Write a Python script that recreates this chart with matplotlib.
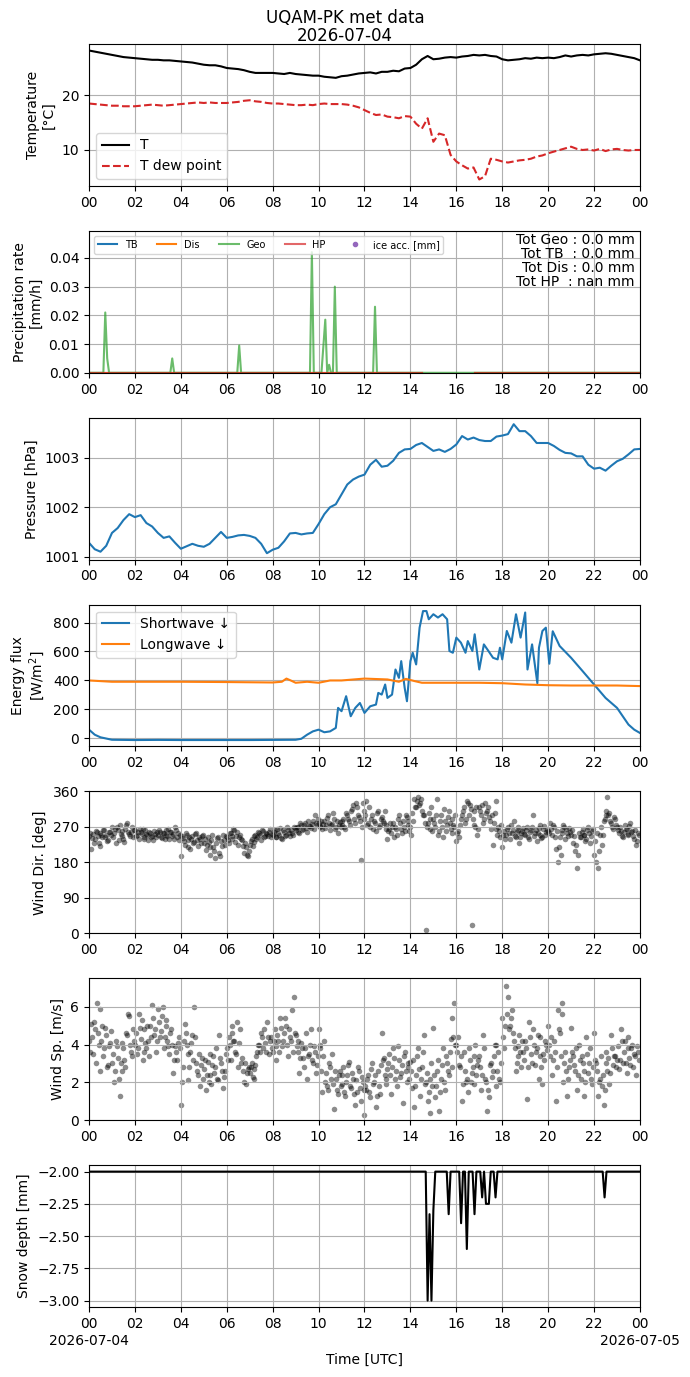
import numpy as np
import pandas as pd
import matplotlib
matplotlib.use('Agg')
from matplotlib import pyplot as plt
import matplotlib.dates as mdates
from matplotlib.ticker import MultipleLocator

day = pd.Timestamp('2026-07-04 00:00')

# temperature, 15 min steps
t_air = [28.2, 28.0, 27.8, 27.6, 27.4, 27.2, 27.0, 26.9,
         26.8, 26.7, 26.6, 26.5, 26.5, 26.4, 26.4, 26.3,
         26.2, 26.1, 26.0, 25.8, 25.6, 25.5, 25.5, 25.3,
         25.0, 24.9, 24.8, 24.6, 24.3, 24.1, 24.1, 24.1,
         24.1, 24.0, 23.9, 24.1, 23.9, 23.8, 23.7, 23.6,
         23.6, 23.4, 23.3, 23.2, 23.5, 23.6, 23.8, 24.0,
         24.1, 24.2, 24.0, 24.3, 24.3, 24.5, 24.4, 24.9,
         25.0, 25.6, 26.6, 27.2, 26.6, 26.7, 26.9, 27.0,
         26.9, 27.1, 27.2, 27.4, 27.3, 27.4, 27.2, 27.1,
         26.6, 26.4, 26.5, 26.6, 26.8, 26.7, 26.9, 26.8,
         26.9, 26.8, 27.0, 27.3, 27.1, 27.3, 27.4, 27.3,
         27.5, 27.6, 27.7, 27.6, 27.4, 27.2, 27.0, 26.8, 26.4]
t_dew = [18.5, 18.4, 18.3, 18.2, 18.1, 18.1, 18.0, 18.0,
         18.0, 18.1, 18.2, 18.3, 18.2, 18.1, 18.2, 18.3,
         18.4, 18.5, 18.6, 18.7, 18.6, 18.7, 18.6, 18.6,
         18.6, 18.7, 18.8, 19.0, 19.1, 18.9, 18.8, 18.6,
         18.5, 18.5, 18.4, 18.3, 18.2, 18.2, 18.3, 18.2,
         18.4, 18.5, 18.4, 18.4, 18.4, 18.3, 18.1, 17.8,
         17.3, 16.8, 16.4, 16.5, 16.1, 16.0, 15.8, 16.2,
         16.1, 14.8, 13.9, 15.8, 11.5, 13.0, 12.7, 9.1,
         7.9, 7.2, 6.6, 6.8, 4.6, 5.2, 8.4, 8.2,
         7.9, 7.7, 7.9, 8.1, 8.2, 8.4, 8.8, 9.0,
         9.4, 9.7, 10.0, 10.3, 10.6, 10.2, 10.0, 10.1,
         9.9, 10.2, 9.8, 10.1, 10.2, 10.0, 9.9, 10.0, 10.0]

# precipitation (sparse readings, hours)
geo_hours = [0, 0.625, 0.708, 0.792, 0.875, 3.542, 3.625, 3.708, 6.458, 6.542, 6.625,
             9.625, 9.708, 9.792, 10.125, 10.292, 10.375, 10.458, 10.542, 10.625,
             10.708, 10.792, 12.375, 12.458, 12.542, 24]
geo_rate = [0, 0, 0.021, 0.005, 0, 0, 0.005, 0, 0, 0.0095, 0,
            0, 0.042, 0, 0, 0.0185, 0, 0.0028, 0, 0,
            0.030, 0, 0, 0.023, 0, 0]
oth_hours = [0, 14.5, 14.51, 16.8, 24]
tb_rate = [0, 0, np.nan, 0, 0]
dis_rate = [0, 0, np.nan, 0, 0]
hp_rate = [0, 0, np.nan, 0, 0]
ice_acc = [np.nan]
totals = {'Geo': '0.0', 'TB ': '0.0', 'Dis': '0.0', 'HP ': 'nan'}

# pressure, 15 min steps
pres = [1001.28, 1001.15, 1001.10, 1001.22, 1001.48, 1001.58, 1001.74, 1001.86,
        1001.80, 1001.84, 1001.68, 1001.61, 1001.48, 1001.38, 1001.41, 1001.28,
        1001.16, 1001.21, 1001.26, 1001.22, 1001.20, 1001.26, 1001.38, 1001.50,
        1001.38, 1001.40, 1001.43, 1001.44, 1001.42, 1001.38, 1001.26, 1001.07,
        1001.14, 1001.18, 1001.31, 1001.47, 1001.48, 1001.45, 1001.47, 1001.48,
        1001.66, 1001.86, 1002.00, 1002.06, 1002.26, 1002.46, 1002.56, 1002.62,
        1002.66, 1002.86, 1002.96, 1002.82, 1002.84, 1002.94, 1003.10, 1003.17,
        1003.18, 1003.26, 1003.30, 1003.22, 1003.14, 1003.17, 1003.12, 1003.18,
        1003.27, 1003.44, 1003.37, 1003.41, 1003.36, 1003.34, 1003.34, 1003.43,
        1003.45, 1003.48, 1003.68, 1003.54, 1003.54, 1003.44, 1003.30, 1003.30,
        1003.30, 1003.24, 1003.16, 1003.10, 1003.09, 1003.03, 1003.03, 1002.86,
        1002.78, 1002.80, 1002.74, 1002.84, 1002.93, 1002.98, 1003.07, 1003.17, 1003.18]

# radiation
sw_hours = [0, 0.25, 0.5, 1, 2, 3, 4, 5, 6, 7, 8, 9, 9.25, 9.5, 9.75, 10, 10.25, 10.5, 10.75,
            10.85, 11.0, 11.2, 11.4, 11.6, 11.8, 12.0, 12.25, 12.5, 12.6, 12.75, 12.9, 13.0,
            13.2, 13.35, 13.5, 13.6, 13.75, 13.85, 14.0, 14.1, 14.25, 14.4, 14.55, 14.7, 14.8,
            15.0, 15.2, 15.4, 15.6, 15.7, 15.85, 16.0, 16.2, 16.4, 16.5, 16.7, 16.8, 17.0,
            17.2, 17.4, 17.6, 17.8, 17.9, 18.0, 18.2, 18.4, 18.6, 18.8, 19.0, 19.1, 19.3,
            19.53, 19.6, 19.75, 19.9, 20.05, 20.2, 20.5, 21.0, 21.5, 22.0, 22.5, 23.0, 23.5,
            23.75, 24]
sw_down = [58, 23, 5, -12, -14, -13, -14, -14, -14, -14, -13, -12, -5, 23, 46, 58, 40, 46, 70,
           209, 186, 290, 151, 209, 243, 174, 220, 232, 313, 301, 371, 278,
           301, 475, 417, 533, 348, 255, 533, 591, 510, 765, 880, 880, 823,
           858, 835, 858, 823, 603, 591, 696, 661, 591, 672, 603, 719, 475,
           649, 603, 556, 545, 626, 545, 742, 661, 858, 696, 870, 475, 649,
           380, 626, 742, 765, 515, 740, 638, 556, 464, 371, 278, 209, 93,
           58, 35]
lw_hours = [0, 1, 2, 4, 6, 8, 8.4, 8.6, 8.8, 9.0, 9.5, 10.0, 10.5, 11, 12, 13, 13.5, 13.8,
            14.2, 14.5, 15, 16, 17, 18, 19, 20, 21, 22, 23, 24]
lw_down = [399, 390, 390, 390, 388, 385, 390, 412, 398, 383, 390, 383, 399, 399, 412, 406,
           390, 410, 394, 383, 383, 383, 383, 380, 371, 366, 364, 364, 364, 360]

# wind, 5 min readings (one row per hour), second set read 2.5 min later
wdir = [248, 215, 252, 240, 258, 230, 255, 245, 262, 250, 238, 256,
        270, 255, 228, 262, 275, 248, 240, 266, 280, 252, 258, 244,
        262, 250, 240, 258, 266, 245, 252, 238, 255, 248, 260, 244,
        250, 258, 242, 255, 262, 248, 240, 256, 252, 270, 245, 238,
        195, 242, 225, 250, 238, 215, 248, 232, 255, 222, 240, 246,
        230, 212, 245, 200, 238, 220, 190, 242, 205, 235, 250, 225,
        245, 230, 255, 240, 262, 248, 225, 250, 238, 205, 218, 195,
        225, 240, 232, 250, 245, 255, 238, 260, 248, 252, 258, 245,
        250, 262, 245, 255, 268, 240, 258, 250, 262, 248, 255, 270,
        262, 270, 255, 275, 265, 280, 258, 272, 268, 285, 300, 275,
        280, 270, 265, 285, 275, 300, 262, 278, 290, 270, 255, 282,
        275, 290, 265, 300, 285, 310, 325, 280, 320, 295, 185, 330,
        290, 335, 280, 270, 300, 285, 260, 310, 275, 295, 280, 265,
        240, 265, 255, 280, 270, 250, 300, 265, 285, 260, 295, 275,
        270, 305, 340, 320, 345, 330, 310, 300, 8, 280, 265, 320,
        290, 270, 340, 260, 300, 245, 285, 275, 310, 265, 290, 270,
        235, 260, 275, 300, 320, 290, 330, 325, 20, 310, 270, 250,
        320, 300, 280, 330, 310, 295, 265, 225, 305, 335, 270, 245,
        220, 260, 250, 270, 240, 255, 285, 245, 262, 230, 255, 268,
        250, 270, 240, 262, 300, 255, 235, 268, 250, 245, 272, 258,
        260, 280, 250, 270, 215, 180, 245, 262, 275, 240, 255, 268,
        250, 230, 210, 165, 255, 245, 265, 250, 240, 270, 230, 260,
        200, 180, 165, 250, 225, 285, 300, 345, 305, 280, 265, 290,
        270, 255, 260, 245, 275, 265, 250, 280, 260, 240, 225, 255]
wdir_b = [255, 242, 230, 260, 248, 222, 250, 262, 244, 235, 258, 250,
          245, 265, 270, 238, 252, 260, 232, 275, 258, 248, 270, 262,
          248, 258, 265, 252, 240, 262, 250, 256, 245, 238, 252, 258,
          262, 245, 255, 240, 250, 265, 258, 246, 240, 262, 255, 250,
          248, 235, 255, 220, 245, 240, 228, 252, 238, 245, 230, 250,
          240, 225, 232, 218, 250, 210, 228, 245, 195, 222, 238, 248,
          238, 255, 248, 265, 232, 258, 245, 240, 222, 230, 200, 210,
          235, 222, 248, 240, 258, 250, 262, 245, 255, 248, 265, 252,
          258, 245, 265, 250, 242, 262, 248, 270, 255, 262, 250, 268,
          270, 258, 280, 262, 275, 268, 285, 272, 278, 265, 280, 290,
          272, 285, 278, 268, 292, 280, 275, 305, 265, 285, 275, 270,
          285, 270, 305, 290, 275, 315, 290, 330, 300, 285, 270, 310,
          300, 275, 320, 290, 265, 280, 305, 270, 290, 285, 310, 275,
          260, 280, 270, 245, 265, 290, 280, 255, 270, 300, 285, 260,
          250, 285, 320, 335, 325, 340, 300, 280, 270, 305, 290, 260,
          280, 300, 250, 285, 270, 315, 260, 295, 280, 255, 275, 300,
          255, 245, 290, 310, 280, 335, 300, 315, 290, 275, 320, 265,
          310, 325, 290, 305, 320, 285, 300, 280, 265, 250, 260, 275,
          250, 240, 265, 255, 275, 262, 248, 258, 270, 245, 260, 252,
          262, 245, 258, 270, 248, 262, 255, 275, 242, 265, 250, 262,
          255, 265, 275, 245, 260, 220, 200, 255, 270, 265, 248, 258,
          262, 248, 225, 200, 245, 258, 250, 235, 262, 255, 248, 265,
          235, 255, 210, 270, 250, 290, 310, 300, 285, 270, 295, 275,
          262, 270, 248, 258, 265, 252, 272, 258, 248, 262, 235, 250]
wspd = [4.2, 5.1, 3.5, 4.8, 6.2, 4.0, 2.6, 5.0, 3.8, 4.5, 2.9, 4.1,
        3.0, 2.0, 4.2, 3.3, 1.3, 2.6, 3.8, 2.8, 4.5, 5.5, 3.6, 4.8,
        4.0, 3.5, 5.6, 4.3, 3.2, 4.8, 3.8, 4.2, 5.0, 6.1, 4.5, 3.6,
        5.9, 4.4, 5.5, 3.8, 5.0, 4.2, 3.5, 4.8, 2.5, 3.9, 3.2, 4.4,
        0.8, 2.8, 5.1, 4.0, 2.1, 3.6, 4.5, 6.0, 3.0, 2.4, 1.8, 3.3,
        2.7, 1.6, 3.1, 2.4, 1.9, 3.4, 2.8, 2.2, 4.5, 3.0, 1.7, 2.6,
        3.8, 4.4, 3.2, 5.0, 4.2, 3.5, 2.8, 4.8, 3.3, 2.0, 1.9, 2.7,
        2.5, 3.0, 2.2, 2.9, 3.6, 4.0, 4.6, 3.8, 4.1, 5.2, 3.5, 4.4,
        3.6, 4.8, 3.2, 4.2, 5.4, 3.9, 4.6, 5.0, 3.4, 4.4, 5.8, 6.5,
        4.5, 3.6, 2.5, 4.1, 3.3, 3.8, 2.2, 3.5, 4.8, 3.0, 3.6, 2.9,
        4.8, 3.8, 1.5, 4.2, 2.5, 1.6, 2.8, 3.5, 0.6, 2.2, 1.4, 2.6,
        1.9, 2.8, 1.3, 2.4, 3.1, 1.7, 2.2, 0.8, 1.5, 2.6, 1.0, 2.0,
        0.3, 1.6, 2.4, 1.2, 3.0, 2.0, 0.7, 2.6, 1.4, 4.6, 3.3, 2.2,
        2.7, 3.5, 1.4, 3.8, 2.2, 1.8, 3.2, 2.5, 0.9, 3.6, 2.0, 2.8,
        3.1, 1.7, 0.7, 2.4, 3.8, 1.3, 2.8, 4.5, 2.0, 1.0, 0.4, 3.0,
        4.9, 1.2, 2.6, 0.5, 2.2, 3.8, 1.6, 3.0, 2.4, 4.3, 5.4, 6.2,
        4.0, 4.4, 2.8, 1.0, 3.6, 2.0, 1.5, 3.2, 2.5, 1.9, 4.0, 2.9,
        3.4, 1.6, 4.5, 2.2, 0.5, 1.2, 3.0, 2.6, 4.0, 1.8, 3.6, 2.0,
        5.4, 3.8, 7.1, 6.5, 5.0, 5.8, 4.2, 2.6, 3.4, 4.5, 2.8, 3.6,
        4.2, 1.1, 5.2, 3.5, 4.8, 2.9, 3.8, 2.2, 4.4, 1.9, 3.2, 4.0,
        5.0, 3.4, 2.4, 4.2, 1.0, 5.8, 4.6, 6.2, 2.0, 3.6, 1.3, 2.8,
        4.9, 3.4, 2.6, 1.6, 4.0, 2.2, 3.0, 1.3, 4.4, 2.5, 3.8, 1.9,
        4.6, 3.0, 1.3, 2.2, 1.8, 0.8, 3.6, 2.6, 1.9, 4.5, 2.9, 3.4,
        3.2, 2.7, 4.8, 3.0, 4.2, 2.5, 3.8, 2.9, 4.0, 3.5, 2.4, 3.6]
wspd_b = [3.6, 4.4, 5.2, 3.0, 4.6, 5.9, 4.2, 3.4, 4.9, 2.8, 3.9, 4.7,
          3.5, 2.6, 3.9, 2.2, 3.0, 4.1, 3.2, 4.6, 5.6, 4.0, 3.4, 4.2,
          4.6, 3.8, 4.9, 5.3, 3.6, 4.1, 5.0, 3.4, 4.4, 5.4, 4.8, 4.2,
          5.2, 4.7, 6.0, 4.4, 5.3, 3.9, 4.6, 4.0, 3.2, 3.6, 4.1, 3.8,
          2.0, 4.2, 4.6, 3.5, 2.8, 4.1, 3.2, 4.4, 2.6, 3.5, 2.9, 2.2,
          3.2, 2.4, 2.0, 3.5, 2.9, 2.5, 3.8, 2.1, 3.3, 2.6, 2.3, 3.5,
          3.2, 4.0, 4.6, 4.2, 3.6, 5.2, 4.1, 3.0, 2.6, 3.0, 2.5, 2.8,
          2.8, 2.3, 2.7, 3.4, 4.0, 3.6, 4.4, 4.8, 3.6, 4.4, 4.2, 3.8,
          4.2, 3.9, 4.5, 3.6, 4.9, 4.2, 5.4, 4.0, 4.8, 4.2, 3.6, 4.6,
          3.9, 4.2, 3.3, 3.8, 2.8, 4.6, 3.4, 4.0, 3.2, 3.9, 2.5, 3.4,
          4.0, 2.6, 3.4, 2.0, 1.8, 3.0, 2.2, 1.9, 2.6, 1.6, 2.4, 1.8,
          2.4, 1.5, 2.0, 2.9, 1.8, 2.5, 1.4, 2.1, 2.8, 1.7, 2.3, 1.6,
          1.8, 2.2, 1.5, 2.7, 1.9, 2.4, 1.3, 1.8, 2.9, 3.2, 2.4, 1.9,
          3.0, 2.4, 2.8, 3.3, 2.6, 3.9, 2.3, 2.9, 3.4, 2.6, 3.0, 2.2,
          2.6, 3.2, 1.8, 3.4, 2.7, 2.2, 3.6, 1.9, 2.5, 1.5, 2.2, 1.8,
          2.4, 1.8, 3.2, 1.5, 2.9, 2.0, 3.4, 2.6, 3.6, 2.8, 4.4, 4.0,
          3.6, 2.9, 3.4, 1.9, 2.6, 2.2, 3.8, 2.0, 2.8, 3.4, 2.4, 3.2,
          2.8, 2.4, 3.8, 2.0, 1.6, 2.9, 2.3, 3.4, 4.0, 2.6, 2.2, 3.0,
          4.4, 5.0, 5.6, 4.8, 5.4, 4.6, 3.8, 3.0, 3.9, 3.6, 4.2, 3.2,
          3.8, 2.8, 4.4, 3.0, 4.0, 3.6, 4.5, 3.4, 2.8, 3.5, 4.2, 3.7,
          4.0, 4.4, 3.2, 3.6, 2.8, 4.8, 3.4, 5.6, 3.0, 2.6, 2.2, 3.2,
          3.6, 2.9, 3.8, 2.4, 3.2, 3.4, 2.6, 2.0, 3.5, 3.0, 2.2, 2.8,
          3.2, 2.6, 2.0, 3.4, 2.4, 1.6, 3.0, 3.3, 2.5, 3.8, 3.4, 2.8,
          3.9, 3.2, 4.2, 3.6, 3.0, 4.4, 3.3, 3.8, 2.8, 3.4, 3.9, 3.2]

# snow depth (sparse readings, hours)
snow_hours = [0, 14.667, 14.75, 14.833, 14.917, 15.0, 15.083, 15.583, 15.667, 15.75,
              16.125, 16.208, 16.292, 16.375, 16.458, 16.542, 16.708, 16.792, 16.875,
              17.042, 17.125, 17.208, 17.292, 17.417, 17.5, 17.625, 17.708, 17.792,
              22.375, 22.458, 22.542, 24]
snow_depth = [-2.0, -2.0, -3.0, -2.33, -3.0, -2.3, -2.0, -2.0, -2.33, -2.0,
              -2.0, -2.4, -2.0, -2.0, -2.6, -2.0, -2.0, -2.33, -2.0,
              -2.0, -2.2, -2.0, -2.25, -2.25, -2.0, -2.0, -2.2, -2.0,
              -2.0, -2.2, -2.0, -2.0]
date_labels = ['2026-07-04', '2026-07-05']


def to_time(hours):
    return day + pd.to_timedelta(np.asarray(hours, dtype=float), unit='h')


t15 = day + pd.to_timedelta(np.arange(len(t_air)) * 15, unit='min')
t5 = day + pd.to_timedelta(np.arange(len(wdir)) * 5, unit='min')
t5b = t5 + pd.Timedelta(seconds=150)

fig, axes = plt.subplots(7, 1, figsize=(6.9, 13.77), dpi=100)
fig.subplots_adjust(left=0.129, right=0.9275, top=0.968, bottom=0.0508, hspace=0.317)
fig.suptitle('UQAM-PK met data\n2026-07-04', y=0.9935, linespacing=1.0)

ax = axes[0]
ax.plot(t15, t_air, color='k', label='T')
ax.plot(t15, t_dew, color='tab:red', ls='--', label='T dew point')
ax.set_ylabel('Temperature\n[°C]')
ax.yaxis.set_major_locator(MultipleLocator(10))
ax.legend(loc='lower left')

ax = axes[1]
ax.plot(to_time(oth_hours), tb_rate, color='tab:blue', label='TB')
ax.plot(to_time(oth_hours), dis_rate, color='tab:orange', label='Dis')
ax.plot(to_time(geo_hours), geo_rate, color='tab:green', alpha=0.7, label='Geo')
ax.plot(to_time(oth_hours), hp_rate, color='tab:red', alpha=0.7, label='HP')
ax.plot(to_time([12]), ice_acc, 'o', color='tab:purple', ms=3, label='ice acc. [mm]')
ax.set_ylim(0, 0.0494)
ax.set_ylabel('Precipitation rate\n[mm/h]')
ax.legend(loc='upper left', ncol=5, fontsize=7)
txt = '\n'.join('Tot %s : %s mm' % (k, v) for k, v in totals.items())
ax.text(0.99, 0.985, txt, transform=ax.transAxes, ha='right', va='top', fontsize=10,
        linespacing=1.0)

ax = axes[2]
ax.plot(t15, pres, color='tab:blue')
ax.yaxis.set_major_locator(MultipleLocator(1))
ax.set_ylabel('Pressure [hPa]')

ax = axes[3]
ax.plot(to_time(sw_hours), sw_down, color='tab:blue', label='Shortwave ↓')
ax.plot(to_time(lw_hours), lw_down, color='tab:orange', label='Longwave ↓')
ax.yaxis.set_major_locator(MultipleLocator(200))
ax.set_ylabel('Energy flux\n[W/m$^2$]')
ax.legend(loc='upper left')

ax = axes[4]
ax.scatter(t5, wdir, s=16, c='k', alpha=0.45, linewidths=0)
ax.scatter(t5b, wdir_b, s=16, c='k', alpha=0.45, linewidths=0)
ax.set_ylim(0, 360)
ax.yaxis.set_major_locator(MultipleLocator(90))
ax.set_ylabel('Wind Dir. [deg]')

ax = axes[5]
ax.scatter(t5, wspd, s=16, c='k', alpha=0.45, linewidths=0)
ax.scatter(t5b, wspd_b, s=16, c='k', alpha=0.45, linewidths=0)
ax.set_ylim(0, 7.5)
ax.yaxis.set_major_locator(MultipleLocator(2))
ax.set_ylabel('Wind Sp. [m/s]')

ax = axes[6]
ax.plot(to_time(snow_hours), snow_depth, color='k')
ax.yaxis.set_major_locator(MultipleLocator(0.25))
ax.set_ylabel('Snow depth [mm]')
ax.set_xlabel('Time [UTC]', labelpad=16)

for ax in axes:
    ax.set_xlim(day, day + pd.Timedelta(hours=24))
    ax.xaxis.set_major_locator(mdates.HourLocator(interval=2))
    ax.xaxis.set_major_formatter(mdates.DateFormatter('%H'))
    ax.grid(True)

# date under the first and last hour tick of the bottom panel
ax = axes[6]
for d, lab in zip([day, day + pd.Timedelta(hours=24)], date_labels):
    ax.annotate(lab, xy=(mdates.date2num(d), 0), xycoords=('data', 'axes fraction'),
                xytext=(0, -19.5), textcoords='offset points', ha='center', va='top',
                fontsize=10, annotation_clip=False)

fig.savefig('out.png', dpi=100)
